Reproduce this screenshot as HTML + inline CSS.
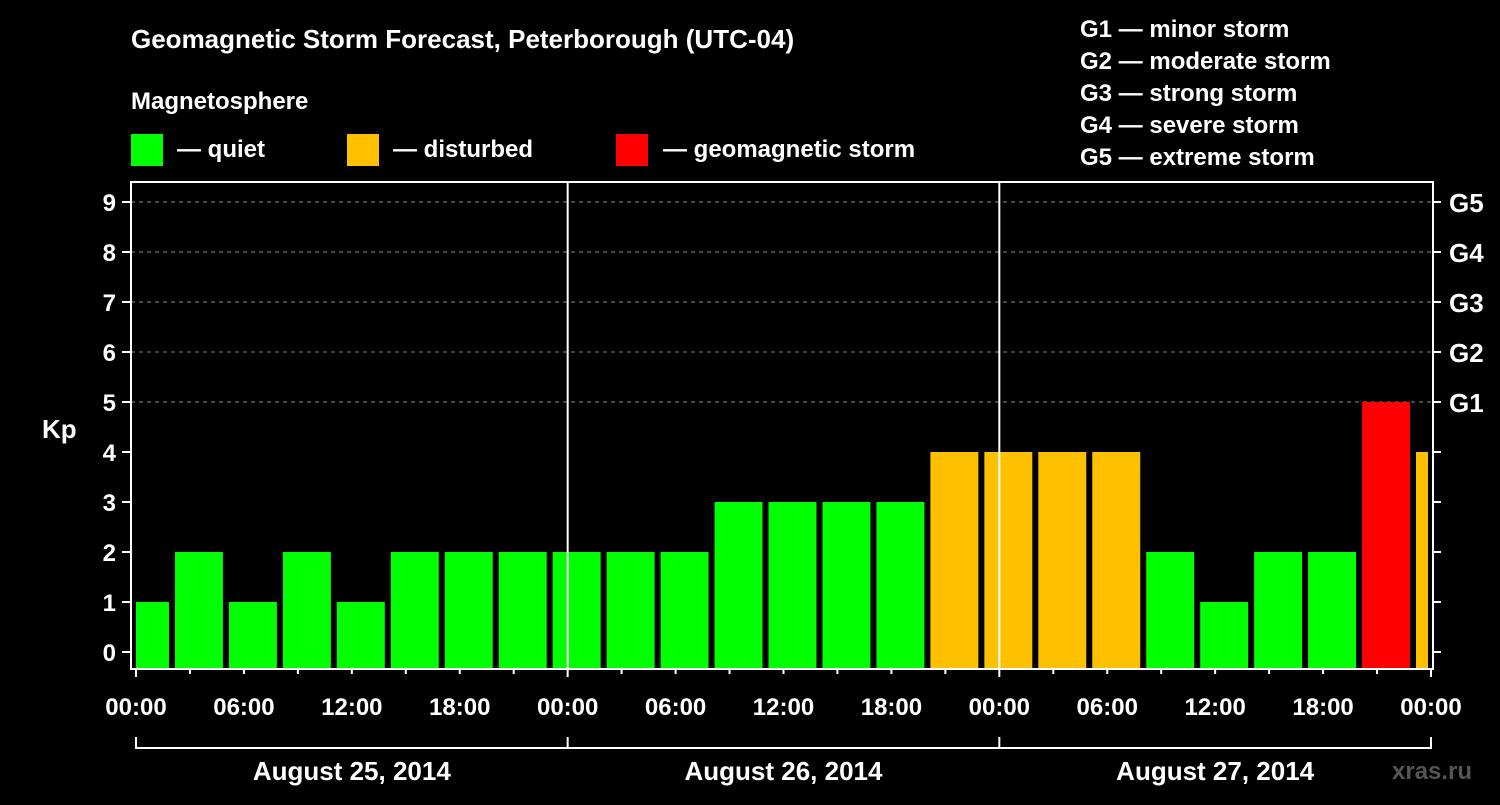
<!DOCTYPE html>
<html><head><meta charset="utf-8"><style>
body{margin:0;background:#000;width:1500px;height:800px;overflow:hidden}
svg text{font-family:"Liberation Sans",Arial,sans-serif;font-weight:bold;fill:#fff}
</style></head><body>
<svg id="chart" width="1500" height="800" viewBox="0 0 1500 800">
<rect width="1500" height="800" fill="#000"/>
<text x="131" y="48" font-size="26">Geomagnetic Storm Forecast, Peterborough (UTC-04)</text>
<text x="131" y="109" font-size="24">Magnetosphere</text>
<g><rect x="131" y="134" width="32" height="32" fill="#00ff00"/><text x="177" y="157" font-size="24">— quiet</text></g>
<g><rect x="347" y="134" width="32" height="32" fill="#ffc000"/><text x="393" y="157" font-size="24">— disturbed</text></g>
<g><rect x="616" y="134" width="32" height="32" fill="#ff0000"/><text x="663" y="157" font-size="24">— geomagnetic storm</text></g>
<g font-size="24">
<text x="1080" y="37">G1 — minor storm</text>
<text x="1080" y="69">G2 — moderate storm</text>
<text x="1080" y="101">G3 — strong storm</text>
<text x="1080" y="133">G4 — severe storm</text>
<text x="1080" y="165">G5 — extreme storm</text>
</g>
<g id="grid"></g>
<g id="bars"></g>
<g id="axes"></g>
<text x="42" y="438" font-size="26">Kp</text>
<text x="1392" y="779" font-size="24" fill="#555" style="fill:#555">xras.ru</text>
</svg>
<script>
const kpValues=[1,2,1,2,1,2,2,2,2,2,2,3,3,3,3,4,4,4,4,2,1,2,2,5,4];
const barStartHours=[-1,2,5,8,11,14,17,20,23,26,29,32,35,38,41,44,47,50,53,56,59,62,65,68,71];
const yTicks=[0,1,2,3,4,5,6,7,8,9];
const gLabels=["G1","G2","G3","G4","G5"];
const gLevels=[5,6,7,8,9];
const timeLabels=["00:00","06:00","12:00","18:00","00:00","06:00","12:00","18:00","00:00","06:00","12:00","18:00","00:00"];
const dayLabels=["August 25, 2014","August 26, 2014","August 27, 2014"];
const ns="http://www.w3.org/2000/svg";
const X0=136,X1=1431,HOURS=72,Y0=652,PXK=50,BOTTOM=668,TOP=182,LEFT=131,RIGHT=1433;
const x=h=>X0+(X1-X0)*h/HOURS;
const y=v=>Y0-PXK*v;
function mk(p,tag,a){const e=document.createElementNS(ns,tag);for(const k in a)e.setAttribute(k,a[k]);p.appendChild(e);return e;}
const grid=document.getElementById('grid'),bars=document.getElementById('bars'),axes=document.getElementById('axes');
yTicks.forEach(v=>{
 if(v>=5){const l=mk(grid,'line',{x1:LEFT,x2:RIGHT,y1:y(v),y2:y(v),stroke:'#888','stroke-width':1,'stroke-dasharray':'4 4'});
 
 }
 const t=mk(axes,'line',{x1:LEFT-9,x2:LEFT,y1:y(v),y2:y(v),stroke:'#fff','stroke-width':2});
 
 
 mk(axes,'line',{x1:RIGHT,x2:RIGHT+8,y1:y(v),y2:y(v),stroke:'#fff','stroke-width':2});
 const tx=mk(axes,'text',{x:LEFT-15,y:y(v)+9,'font-size':24,'text-anchor':'end'});tx.textContent=v;
 
 
});
gLevels.forEach((v,i)=>{const t=mk(axes,'text',{x:1449,y:y(v)+10,'font-size':26});t.textContent=gLabels[i];
 
 });
kpValues.forEach((v,i)=>{
 const h0=Math.max(0,barStartHours[i]),h1=Math.min(HOURS,barStartHours[i]+3);
 let xa=x(barStartHours[i])+3,xb=x(barStartHours[i]+3)-3;
 xa=Math.max(xa,x(h0));xb=Math.min(xb,x(h1)-3);
 const c=v>=5?'#ff0000':v>=4?'#ffc000':'#00ff00';
 const r=mk(bars,'rect',{x:xa,y:y(v),width:xb-xa,height:BOTTOM-y(v),fill:c});
 
 
});
[1,2].forEach(d=>{const l=mk(axes,'line',{x1:x(24*d),x2:x(24*d),y1:TOP,y2:BOTTOM,stroke:'#fff','stroke-width':2});
 
 });
const fr=mk(axes,'rect',{x:LEFT,y:TOP,width:RIGHT-LEFT,height:BOTTOM-TOP+1,fill:'none',stroke:'#fff','stroke-width':2});


for(let h=0;h<=HOURS;h+=3){const len=h%24===0?8:5;mk(axes,'line',{x1:x(h),x2:x(h),y1:BOTTOM+1,y2:BOTTOM+1+len,stroke:'#fff','stroke-width':2});}
timeLabels.forEach((s,i)=>{const t=mk(axes,'text',{x:x(i*6),y:715,'font-size':24,'text-anchor':'middle'});t.textContent=s;
 
 });
mk(axes,'line',{x1:x(0),x2:x(72),y1:748,y2:748,stroke:'#fff','stroke-width':2});
for(let d=0;d<=3;d++)mk(axes,'line',{x1:x(24*d),x2:x(24*d),y1:737,y2:749,stroke:'#fff','stroke-width':2});
dayLabels.forEach((s,i)=>{const t=mk(axes,'text',{x:x(24*i+12),y:780,'font-size':26,'text-anchor':'middle'});t.textContent=s;
 
 });
</script>
</body></html>
